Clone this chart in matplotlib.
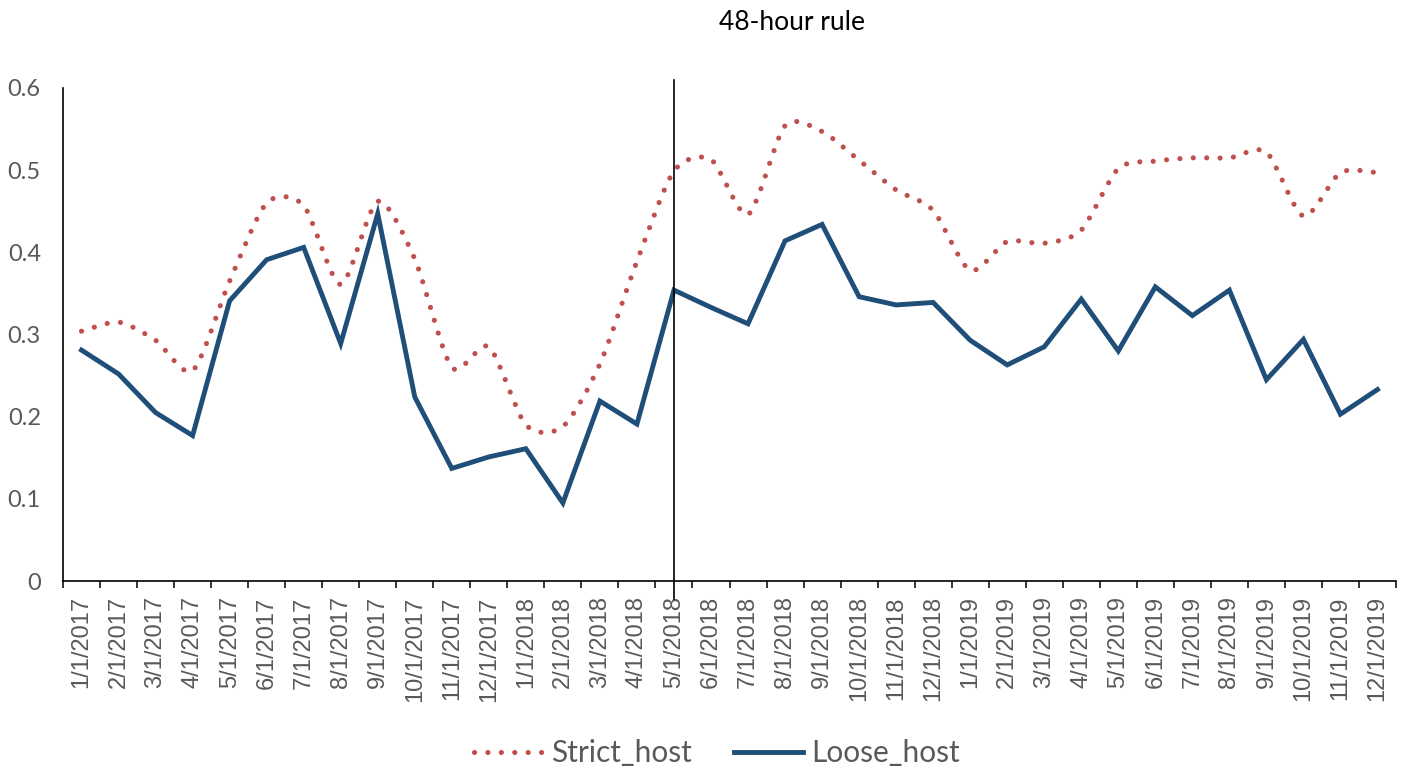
import matplotlib
matplotlib.use('Agg')
import matplotlib.pyplot as plt
from matplotlib.path import Path
from matplotlib.patches import PathPatch
from matplotlib.lines import Line2D
import numpy as np

months = ['1/1/2017', '2/1/2017', '3/1/2017', '4/1/2017', '5/1/2017', '6/1/2017',
          '7/1/2017', '8/1/2017', '9/1/2017', '10/1/2017', '11/1/2017', '12/1/2017',
          '1/1/2018', '2/1/2018', '3/1/2018', '4/1/2018', '5/1/2018', '6/1/2018',
          '7/1/2018', '8/1/2018', '9/1/2018', '10/1/2018', '11/1/2018', '12/1/2018',
          '1/1/2019', '2/1/2019', '3/1/2019', '4/1/2019', '5/1/2019', '6/1/2019',
          '7/1/2019', '8/1/2019', '9/1/2019', '10/1/2019', '11/1/2019', '12/1/2019']

strict_host = [0.304, 0.315, 0.293, 0.256, 0.365, 0.460, 0.457, 0.361, 0.462, 0.392,
               0.260, 0.285, 0.190, 0.188, 0.264, 0.389, 0.499, 0.513, 0.446, 0.554,
               0.547, 0.512, 0.476, 0.451, 0.378, 0.413, 0.411, 0.427, 0.502, 0.511,
               0.515, 0.515, 0.522, 0.444, 0.497, 0.497]

loose_host = [0.281, 0.252, 0.205, 0.177, 0.341, 0.391, 0.406, 0.289, 0.447, 0.224,
              0.137, 0.151, 0.161, 0.095, 0.219, 0.191, 0.354, 0.333, 0.313, 0.414,
              0.434, 0.346, 0.336, 0.339, 0.293, 0.263, 0.285, 0.343, 0.280, 0.358,
              0.323, 0.354, 0.245, 0.294, 0.203, 0.233]

rule_change = '5/1/2018'

RED = '#C0504D'
BLUE = '#1F4E79'
GREY = '#595959'
DOTS = (0, (0.01, 2.6))


def smooth_path(xs, ys, k=0.13):
    # excel style smoothed line: bezier segments through each point
    pts = np.column_stack([xs, ys]).astype(float)
    n = len(pts)
    verts = [pts[0]]
    codes = [Path.MOVETO]
    for i in range(n - 1):
        p0 = pts[max(i - 1, 0)]
        p1 = pts[i]
        p2 = pts[i + 1]
        p3 = pts[min(i + 2, n - 1)]
        verts += [p1 + (p2 - p0) * k, p2 - (p3 - p1) * k, p2]
        codes += [Path.CURVE4] * 3
    return Path(verts, codes)


fig = plt.figure(figsize=(14.1, 7.72), dpi=100)
ax = fig.add_axes([63 / 1410, 1 - 581 / 772, (1396 - 63) / 1410, (581 - 88) / 772])

x = np.arange(len(months))

dots = PathPatch(smooth_path(x, strict_host), fill=False, edgecolor=RED,
                 linewidth=3.7, linestyle=DOTS, capstyle='round', zorder=3)
ax.add_patch(dots)
ax.plot(x, loose_host, color=BLUE, linewidth=3.5, solid_joinstyle='miter', zorder=4)

xc = months.index(rule_change)
ax.plot([xc, xc], [-0.022, 0.61], color='black', linewidth=1.2, clip_on=False, zorder=5)

ax.set_xlim(-0.5, len(months) - 0.5)
ax.set_ylim(0, 0.6)

ax.set_xticks(x)
ax.set_xticklabels(months, rotation=90, fontfamily='Liberation Sans', fontsize=17, color=GREY)
ax.set_xticks(np.arange(len(months) + 1) - 0.5, minor=True)
ax.tick_params(axis='x', which='major', length=0, pad=11)
ax.tick_params(axis='x', which='minor', length=5, width=1.1, direction='out', color='black')

yt = [0, 0.1, 0.2, 0.3, 0.4, 0.5, 0.6]
ax.set_yticks(yt)
ax.set_yticklabels(['0', '0.1', '0.2', '0.3', '0.4', '0.5', '0.6'],
                   fontfamily='Lato', fontsize=17, color=GREY)
ax.tick_params(axis='y', length=0, pad=16)

for s in ['top', 'right']:
    ax.spines[s].set_visible(False)
for s in ['left', 'bottom']:
    ax.spines[s].set_linewidth(1.2)
    ax.spines[s].set_color('black')

fig.text(792 / 1410, 1 - 22 / 772, '48-hour rule', ha='center', va='center',
         fontfamily='Lato', fontsize=19, color='black')

handles = [Line2D([], [], color=RED, linewidth=3.7, linestyle=DOTS,
                  dash_capstyle='round'),
           Line2D([], [], color=BLUE, linewidth=3.5)]
leg = fig.legend(handles, ['Strict_host', 'Loose_host'], loc='center',
                 bbox_to_anchor=(717 / 1410, 1 - 753 / 772), ncol=2, frameon=False,
                 prop={'family': 'Lato', 'size': 21.5}, handlelength=2.3,
                 handletextpad=0.3, columnspacing=1.4)
for t in leg.get_texts():
    t.set_color(GREY)

fig.savefig('out.png', dpi=100)
